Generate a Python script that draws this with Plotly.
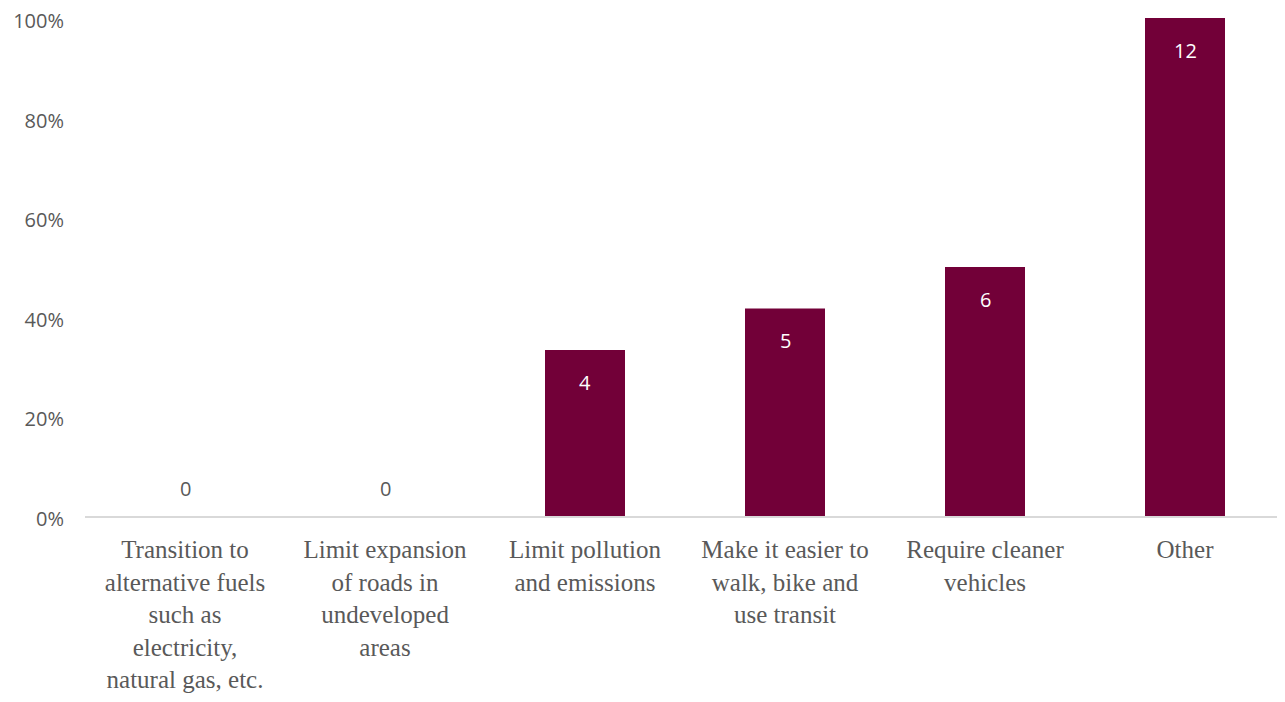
import plotly.graph_objects as go

categories = [
    "Transition to<br>alternative fuels<br>such as<br>electricity,<br>natural gas, etc.",
    "Limit expansion<br>of roads in<br>undeveloped<br>areas",
    "Limit pollution<br>and emissions",
    "Make it easier to<br>walk, bike and<br>use transit",
    "Require cleaner<br>vehicles",
    "Other",
]
counts = [0, 0, 4, 5, 6, 12]
total = 12
shares = [c / total for c in counts]

bar_color = "#720038"
grey = "#595959"

fig = go.Figure()
fig.add_trace(go.Bar(
    x=categories, y=shares,
    marker=dict(color=bar_color, line=dict(width=0)),
    width=0.4,
    hoverinfo="skip",
))

# count labels: white inside the bar near the top, grey above the baseline for zeros
for cat, s, c in zip(categories, shares, counts):
    fig.add_annotation(
        x=cat, y=s, text=str(c), showarrow=False,
        yanchor="middle", yshift=-32 if c > 0 else 28,
        font=dict(family="Open Sans", size=20, color="white" if c > 0 else grey),
    )

# page body has an 8px margin, so the figure is a bit smaller than the window
fig.update_layout(
    width=1277, height=694,
    margin=dict(l=77, r=0, t=10, b=186),
    plot_bgcolor="white", paper_bgcolor="white",
    showlegend=False,
    bargap=0.6,
)
fig.update_xaxes(
    showline=True, linecolor="#d9d9d9", linewidth=2,
    showgrid=False, ticks="", automargin=False,
    tickfont=dict(family="Liberation Serif", size=25, color=grey),
    ticklabelstandoff=10,
)
fig.update_yaxes(
    range=[0, 1], dtick=0.2, tickformat=".0%",
    showgrid=False, zeroline=False, showline=False, ticks="", automargin=False,
    tickfont=dict(family="Open Sans", size=20, color=grey),
    ticklabelstandoff=20, ticklabelshift=3, ticklabeloverflow="allow",
)

fig.write_html("out.html")
